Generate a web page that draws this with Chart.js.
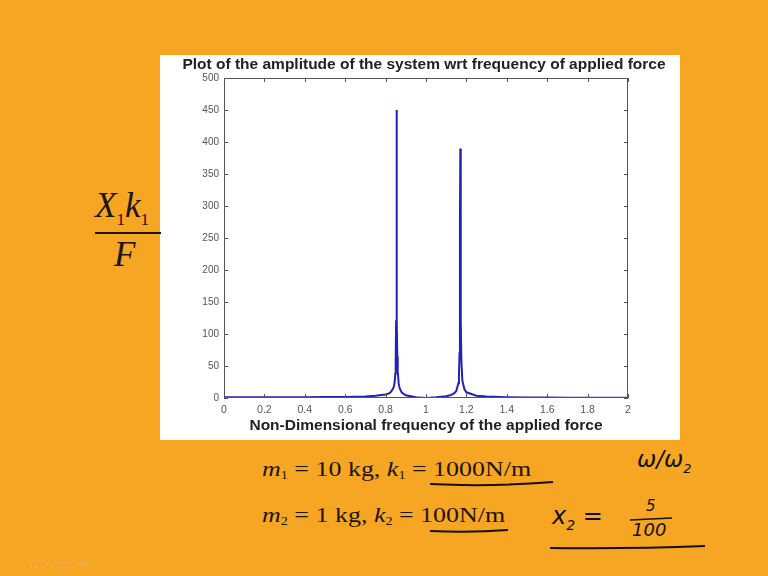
<!DOCTYPE html>
<html lang="en">

<head>
  <meta charset="UTF-8" />
  <title>Amplitude vs frequency</title>
  <style>
    body {
      margin: 0;
      width: 768px;
      height: 576px;
      background: #f6a623;
      position: relative;
      overflow: hidden;
      font-family: "Liberation Serif", serif;
    }

    #panel {
      position: absolute;
      left: 160px;
      top: 55px;
      width: 520px;
      height: 385px;
      background: #fff;
    }

    .t {
      position: absolute;
      white-space: nowrap;
      color: #1e1408;
    }

    .eq {
      font-size: 22px;
      transform: scaleX(1.18);
      transform-origin: left top;
    }

    .eq sub {
      font-size: 12px;
      vertical-align: -3px;
    }

    .hand {
      font-family: "DejaVu Sans", sans-serif;
      font-style: oblique;
      font-weight: 300;
      color: #111;
    }

    svg {
      position: absolute;
      left: 0;
      top: 0;
    }
  </style>
</head>

<body>
  <div id="panel">
    <canvas id="myChart" width="520" height="385"></canvas>
  </div>

  <!-- left fraction -->
  <div class="t" style="left:95px;top:186px;font-size:35px;font-style:italic;">X<sub style="font-size:17px;font-style:normal;">1</sub>k<sub style="font-size:17px;font-style:normal;">1</sub></div>
  <div class="t" style="left:114px;top:235px;font-size:35px;font-style:italic;">F</div>

  <!-- parameters -->
  <div class="t eq" style="left:262px;top:456px;"><i>m</i><sub>1</sub> = 10 kg, <i>k</i><sub>1</sub> = 1000N/m</div>
  <div class="t eq" style="left:262px;top:502px;"><i>m</i><sub>2</sub> = 1 kg, <i>k</i><sub>2</sub> = 100N/m</div>

  <!-- handwritten notes -->
  <div class="t hand" style="left:637px;top:446px;font-size:23px;">ω/ω<sub style="font-size:13px;">2</sub></div>
  <div class="t hand" style="left:552px;top:502px;font-size:24px;">x<sub style="font-size:14px;">2</sub> =</div>
  <div class="t hand" style="left:646px;top:497px;font-size:15px;">5</div>
  <div class="t hand" style="left:632px;top:519px;font-size:18px;">100</div>

  <!-- slide nav icons -->
  <div class="t" style="left:30px;top:555px;font-size:14px;color:#e9b257;font-family:'DejaVu Sans';letter-spacing:8px;">⌂⁄▭⇨</div>

  <svg width="768" height="576">
    <line x1="95" y1="233" x2="161" y2="233" stroke="#1e1408" stroke-width="2" />
    <path d="M430 484 Q490 487 553 482" stroke="#111" stroke-width="2" fill="none" />
    <path d="M430 531 Q470 533 508 530" stroke="#111" stroke-width="2" fill="none" />
    <path d="M630 520 L672 518" stroke="#111" stroke-width="1.6" fill="none" />
    <path d="M550 548 Q630 549 705 546" stroke="#111" stroke-width="2" fill="none" />
  </svg>

  <script src="https://cdn.jsdelivr.net/npm/chart.js"></script>

  <script>
    // frequency ratio (omega / omega2) and amplitude X1*k1/F
    const freqRatio = [0, 0.1, 0.2, 0.3, 0.4, 0.5, 0.6, 0.65, 0.7, 0.75,
      0.8, 0.82, 0.83, 0.84, 0.845, 0.848, 0.85, 0.852, 0.854, 0.856,
      0.858, 0.86, 0.865, 0.87, 0.88, 0.9, 0.95, 1.0, 1.05, 1.1,
      1.12, 1.14, 1.15, 1.16, 1.163, 1.166, 1.168, 1.17, 1.172, 1.175,
      1.18, 1.19, 1.2, 1.25, 1.3, 1.4, 1.5, 1.6, 1.7, 1.8,
      1.9, 2.0];
    const amplitude = [1.0, 1.0, 1.05, 1.1, 1.2, 1.4, 1.7, 2.0, 2.4, 3.4,
      5.5, 7.5, 11, 17, 25, 38, 58, 120, 450, 120,
      65, 42, 22, 15, 8.5, 4.2, 1.2, 0.1, 1.0, 2.7,
      4.2, 7.5, 11, 23, 35, 70, 280, 390, 120, 60,
      27, 14, 8.9, 3.5, 2.3, 1.3, 0.95, 0.72, 0.58, 0.48,
      0.41, 0.35];
    const xTicks = [0, 0.2, 0.4, 0.6, 0.8, 1, 1.2, 1.4, 1.6, 1.8, 2];
    const yTicks = [0, 50, 100, 150, 200, 250, 300, 350, 400, 450, 500];

    const points = freqRatio.map((x, i) => ({ x: x, y: amplitude[i] }));

    // matlab style box with inward ticks on all four sides
    const boxTicks = {
      id: "boxTicks",
      afterDraw(chart) {
        const { ctx, chartArea: a, scales } = chart;
        ctx.save();
        ctx.strokeStyle = "#555";
        ctx.lineWidth = 1;
        ctx.strokeRect(a.left + 0.5, a.top + 0.5, a.width - 1, a.height - 1);
        ctx.beginPath();
        xTicks.forEach((v) => {
          const px = Math.round(scales.x.getPixelForValue(v)) + 0.5;
          ctx.moveTo(px, a.bottom);
          ctx.lineTo(px, a.bottom - 4);
          ctx.moveTo(px, a.top);
          ctx.lineTo(px, a.top + 4);
        });
        yTicks.forEach((v) => {
          const py = Math.round(scales.y.getPixelForValue(v)) + 0.5;
          ctx.moveTo(a.left, py);
          ctx.lineTo(a.left + 4, py);
          ctx.moveTo(a.right, py);
          ctx.lineTo(a.right - 4, py);
        });
        ctx.stroke();
        ctx.restore();
      },
    };

    const ctx = document.getElementById("myChart");
    const chart = new Chart(ctx, {
      type: "line",
      data: {
        datasets: [
          {
            data: points,
            borderColor: "#2222b4",
            borderWidth: 2,
            pointRadius: 0,
            tension: 0,
          },
        ],
      },
      options: {
        responsive: false,
        animation: false,
        devicePixelRatio: 1,
        layout: { padding: { left: 8, right: 0, top: 0, bottom: 0 } },
        plugins: {
          legend: { display: false },
          tooltip: { enabled: false },
          title: {
            display: true,
            text: "Plot of the amplitude of the system wrt frequency of applied force",
            color: "#222",
            font: { family: "Liberation Sans", size: 15.5, weight: "bold" },
            padding: { top: 0, bottom: 4.4 },
          },
        },
        scales: {
          x: {
            type: "linear",
            min: 0,
            max: 2,
            afterFit: (s) => { s.height = 42; },
            afterBuildTicks: (s) => { s.ticks = xTicks.map((v) => ({ value: v })); },
            grid: { display: false, drawTicks: false },
            border: { display: false },
            ticks: {
              padding: 6,
              color: "#555",
              font: { family: "Liberation Sans", size: 10.5 },
              maxRotation: 0,
              callback: (v) => String(v),
            },
            title: {
              display: true,
              text: "Non-Dimensional frequency of the applied force",
              color: "#222",
              font: { family: "Liberation Sans", size: 15.5, weight: "bold" },
              padding: { top: 0, bottom: 4.7 },
            },
          },
          y: {
            min: 0,
            max: 500,
            afterFit: (s) => { s.width = 56; },
            afterBuildTicks: (s) => { s.ticks = yTicks.map((v) => ({ value: v })); },
            grid: { display: false, drawTicks: false },
            border: { display: false },
            ticks: {
              padding: 5,
              color: "#555",
              font: { family: "Liberation Sans", size: 10 },
            },
          },
          // empty right-hand axis, only keeps the plot box off the right edge
          yRight: {
            position: "right",
            afterFit: (s) => { s.width = 52; },
            grid: { display: false, drawTicks: false },
            border: { display: false },
            ticks: { display: false },
          },
        },
      },
      plugins: [boxTicks],
    });
  </script>
</body>

</html>
